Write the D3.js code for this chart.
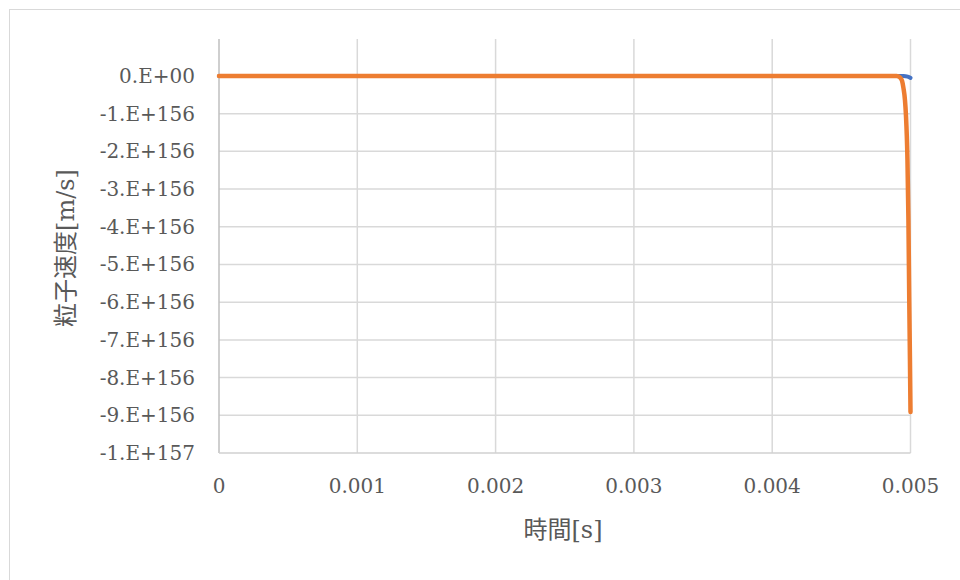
<!DOCTYPE html>
<html>
<head>
<meta charset="utf-8">
<script src="https://cdn.jsdelivr.net/npm/d3@7"></script>
<style>
  html, body { margin: 0; padding: 0; background: #ffffff; }
  svg { display: block; }
  .tick-label { font-family: "DejaVu Serif", "Liberation Serif", serif; font-size: 20px; fill: #595959; }
  .axis-title { font-family: "DejaVu Serif", "Noto Sans CJK JP", serif; font-size: 24px; fill: #595959; }
</style>
</head>
<body>
<svg id="chart" width="960" height="580"></svg>
<script>
// Time samples [s] and particle velocity [m/s] for the two runs
const timeBlue = [0, 0.001, 0.002, 0.003, 0.004, 0.0049, 0.00495, 0.00498, 0.005];
const velBlue  = [0, 0, 0, 0, 0, 0, 0, -0.02e156, -0.05e156];

const timeOrange = [0, 0.001, 0.002, 0.003, 0.004, 0.0049, 0.004924, 0.004939, 0.004949,
                    0.00496, 0.004967, 0.004978, 0.004985, 0.004991, 0.004996, 0.005];
const velOrange  = [0, 0, 0, 0, 0, 0, -0.04e156, -0.13e156, -0.32e156,
                    -0.64e156, -1.03e156, -2.23e156, -3.82e156, -5.94e156, -7.53e156, -8.91e156];

// Axis ticks
const xTicks = [0, 0.001, 0.002, 0.003, 0.004, 0.005];
const xTickLabels = ["0", "0.001", "0.002", "0.003", "0.004", "0.005"];
const yTicks = [0, -1e156, -2e156, -3e156, -4e156, -5e156, -6e156, -7e156, -8e156, -9e156, -1e157];
const yTickLabels = ["0.E+00", "-1.E+156", "-2.E+156", "-3.E+156", "-4.E+156", "-5.E+156",
                     "-6.E+156", "-7.E+156", "-8.E+156", "-9.E+156", "-1.E+157"];

const xTitle = "時間[s]";
const yTitle = "粒子速度[m/s]";

const svg = d3.select("#chart");
const plot = { left: 219, right: 910.5, top: 39, bottom: 453 };

const x = d3.scaleLinear().domain([0, 0.005]).range([plot.left, plot.right]);
const y = d3.scaleLinear().domain([-1e157, 0.98e156]).range([plot.bottom, plot.top]);

// Chart frame
svg.append("rect")
  .attr("x", 9.5).attr("y", 9.5)
  .attr("width", 980).attr("height", 600)
  .attr("fill", "#ffffff")
  .attr("stroke", "#d9d9d9").attr("stroke-width", 1);

// Horizontal gridlines
svg.append("g").selectAll("line")
  .data(yTicks.slice(0, -1))
  .join("line")
  .attr("x1", plot.left).attr("x2", plot.right)
  .attr("y1", d => y(d)).attr("y2", d => y(d))
  .attr("stroke", "#d9d9d9").attr("stroke-width", 1.5);

// Vertical gridlines
svg.append("g").selectAll("line")
  .data(xTicks.slice(1))
  .join("line")
  .attr("x1", d => x(d)).attr("x2", d => x(d))
  .attr("y1", plot.top).attr("y2", plot.bottom)
  .attr("stroke", "#d9d9d9").attr("stroke-width", 1.5);

// Axis lines
svg.append("line")
  .attr("x1", plot.left).attr("x2", plot.left)
  .attr("y1", plot.top).attr("y2", plot.bottom)
  .attr("stroke", "#bfbfbf").attr("stroke-width", 1.5);
svg.append("line")
  .attr("x1", plot.left).attr("x2", plot.right)
  .attr("y1", y(-1e157)).attr("y2", y(-1e157))
  .attr("stroke", "#d0d0d0").attr("stroke-width", 1.5);

// Tick labels
svg.append("g").selectAll("text")
  .data(yTicks)
  .join("text")
  .attr("class", "tick-label")
  .attr("x", 195)
  .attr("y", d => y(d))
  .attr("dy", "0.35em")
  .attr("text-anchor", "end")
  .text((d, i) => yTickLabels[i]);

svg.append("g").selectAll("text")
  .data(xTicks)
  .join("text")
  .attr("class", "tick-label")
  .attr("x", d => x(d))
  .attr("y", 486)
  .attr("dy", "0.35em")
  .attr("text-anchor", "middle")
  .text((d, i) => xTickLabels[i]);

// Axis titles
svg.append("text")
  .attr("class", "axis-title")
  .attr("x", 563)
  .attr("y", 530)
  .attr("dy", "0.35em")
  .attr("text-anchor", "middle")
  .text(xTitle);

svg.append("text")
  .attr("class", "axis-title")
  .attr("transform", `translate(66, 248) rotate(-90)`)
  .attr("dy", "0.35em")
  .attr("text-anchor", "middle")
  .text(yTitle);

// Series lines
const line = d3.line()
  .x(d => x(d[0]))
  .y(d => y(d[1]))
  .curve(d3.curveMonotoneX);

svg.append("path")
  .datum(d3.zip(timeBlue, velBlue))
  .attr("fill", "none")
  .attr("stroke", "#4472c4")
  .attr("stroke-width", 4)
  .attr("stroke-linecap", "round")
  .attr("stroke-linejoin", "round")
  .attr("d", line);

svg.append("path")
  .datum(d3.zip(timeOrange, velOrange))
  .attr("fill", "none")
  .attr("stroke", "#ed7d31")
  .attr("stroke-width", 4.5)
  .attr("stroke-linecap", "round")
  .attr("stroke-linejoin", "round")
  .attr("d", line);
</script>
</body>
</html>
